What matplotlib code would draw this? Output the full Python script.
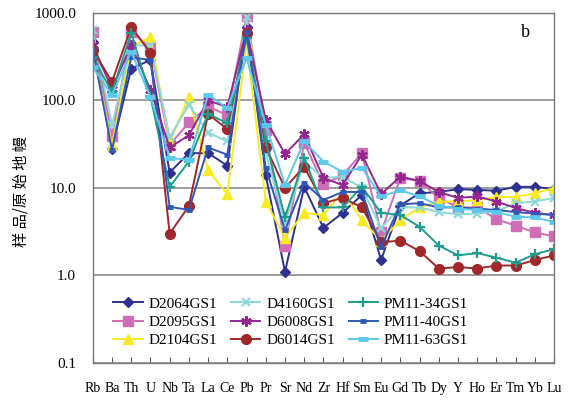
import numpy as np
import matplotlib.pyplot as plt

elements = ["Rb", "Ba", "Th", "U", "Nb", "Ta", "La", "Ce", "Pb", "Pr", "Sr", "Nd", "Zr",
            "Hf", "Sm", "Eu", "Gd", "Tb", "Dy", "Y", "Ho", "Er", "Tm", "Yb", "Lu"]

d2064 = [470, 28, 230, 290, 15, 25, 25, 18, 690, 14, 1.1, 10.3, 3.5, 5.2, 8.3, 1.5, 6.3, 8.7, 9, 9.7, 9.5, 9.3, 10.3, 10.3, 9.7]
d2095 = [610, 39, 600, 410, 31, 56, 85, 68, 920, 46, 2.2, 33, 11, 14, 25, 3.1, 13, 12, 7.7, 6, 6, 4.4, 3.7, 3.1, 2.8]
d2104 = [400, 31, 410, 530, 33, 110, 16, 8.5, 450, 7, 2.7, 5.2, 4.9, 9, 4.3, 2.5, 4.3, 6, 7, 7, 7.3, 7.9, 7.9, 8.7, 10]
d4160 = [640, 52, 430, 420, 38, 89, 43, 34, 900, 25, 4, 20, 13, 13.5, 10, 3.5, 6, 6, 5.3, 5, 5.1, 5.4, 6.7, 7, 7.7]
d6008 = [430, 135, 430, 132, 29, 40, 100, 84, 640, 60, 24.5, 41, 13, 10.8, 24, 8.5, 13.5, 12, 9, 7.7, 8, 7, 5.9, 5.2, 4.9]
d6014 = [380, 163, 690, 350, 3.0, 6.2, 70, 47, 590, 29, 10, 17.5, 6.7, 7.7, 6, 2.4, 2.5, 1.9, 1.2, 1.25, 1.2, 1.3, 1.3, 1.5, 1.7]
pm1134 = [310, 125, 590, 112, 10.3, 20, 70, 55, 520, 34, 4.6, 22, 6, 6, 10.3, 5.2, 4.9, 3.6, 2.2, 1.7, 1.8, 1.6, 1.4, 1.75, 2.0]
pm1140 = [390, 27, 310, 290, 6.1, 5.6, 29, 24, 610, 17, 3.3, 11.5, 7.3, 9, 9, 2.1, 6.5, 6.7, 6, 6, 5.8, 5.6, 5.3, 5.1, 4.9]
pm1163 = [240, 116, 360, 110, 22, 21, 116, 82, 305, 53, 10.8, 34, 20, 15.3, 17, 8, 9.4, 8, 6.3, 5.8, 5.6, 5.3, 4.7, 4.6, 4.1]

plt.rcParams['font.family'] = ['Liberation Serif', 'Noto Sans CJK SC']

x = np.arange(len(elements))

fig = plt.figure(figsize=(5.76, 4.04), dpi=100)
ax = fig.add_axes([0.161, 0.1015, 0.801, 0.8665])

# name, values, color, marker, size, edge width
series = [
    ("D2064GS1", d2064, "#2E3192", "D", 5.5, 1),
    ("D2095GS1", d2095, "#CD6EB6", "s", 6.5, 1),
    ("D2104GS1", d2104, "#F8EB23", "^", 7, 1),
    ("D4160GS1", d4160, "#8ED8D8", "x", 6, 1.6),
    ("D6008GS1", d6008, "#93278F", (6, 2, 0), 7.5, 1.6),
    ("D6014GS1", d6014, "#A0282A", "o", 7, 1),
    ("PM11-34GS1", pm1134, "#1E9C8E", "+", 7.5, 1.6),
    ("PM11-40GS1", pm1140, "#3158B8", "_", 5, 3.5),
    ("PM11-63GS1", pm1163, "#5CC8EC", "_", 7, 3.5),
]

for name, vals, col, mk, ms, mew in series:
    ax.plot(x, vals, color=col, marker=mk, markersize=ms, markeredgewidth=mew,
            markerfacecolor=col, markeredgecolor=col, linewidth=1.4, label=name)

ax.set_yscale("log")
ax.set_ylim(0.1, 1000)
ax.set_xlim(0, len(elements) - 1)
ax.set_yticks([0.1, 1, 10, 100, 1000])
ax.set_yticklabels(["0.1", "1.0", "10.0", "100.0", "1000.0"], fontsize=11)
ax.minorticks_off()
ax.tick_params(axis="y", length=0, pad=12)
ax.set_xticks(x)
ax.set_xticklabels(elements, fontsize=10)
ax.tick_params(axis="x", direction="in", length=4, pad=14, color="#555555")
ax.yaxis.grid(True, color="#8C8C8C", linewidth=1.2)
ax.set_axisbelow(True)
for s in ax.spines.values():
    s.set_color("#7A7A7A")
    s.set_linewidth(1)

ax.set_ylabel("样 品/原 始 地 幔", family=['Noto Sans CJK SC'], fontsize=11)
ax.yaxis.set_label_coords(-0.138, 0.49)
ax.text(0.937, 0.943, "b", transform=ax.transAxes, fontsize=13, ha="center", va="center")

ax.legend(loc="lower left", bbox_to_anchor=(0.045, 0.045), ncol=3, frameon=False,
          fontsize=11, handlelength=1.9, handletextpad=0.4, columnspacing=0.9,
          labelspacing=0.3, borderpad=0, borderaxespad=0)

plt.savefig("out.png", dpi=100)
